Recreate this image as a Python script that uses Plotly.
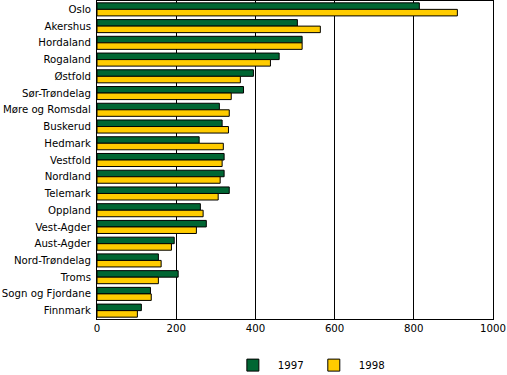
import plotly.graph_objects as go

categories = ["Oslo", "Akershus", "Hordaland", "Rogaland", "Østfold", "Sør-Trøndelag",
              "Møre og Romsdal", "Buskerud", "Hedmark", "Vestfold", "Nordland", "Telemark",
              "Oppland", "Vest-Agder", "Aust-Agder", "Nord-Trøndelag", "Troms",
              "Sogn og Fjordane", "Finnmark"]
values_1997 = [814, 506, 518, 460, 395, 370, 309, 316, 258, 321, 321, 334,
               261, 276, 195, 155, 205, 135, 112]
values_1998 = [910, 564, 518, 438, 362, 339, 334, 332, 319, 316, 311, 306,
               268, 251, 188, 162, 155, 137, 102]
x_ticks = [0, 200, 400, 600, 800, 1000]

font = dict(family="DejaVu Sans", size=10.2, color="#000000")

fig = go.Figure()
fig.add_trace(go.Bar(y=categories, x=values_1997, orientation="h", name="1997",
                     marker=dict(color="#006633", line=dict(color="#000000", width=1))))
fig.add_trace(go.Bar(y=categories, x=values_1998, orientation="h", name="1998",
                     marker=dict(color="#FFCC00", line=dict(color="#000000", width=1))))

fig.update_layout(
    width=507, height=375,
    margin=dict(l=97, r=14, t=1, b=56, autoexpand=False),
    paper_bgcolor="white", plot_bgcolor="white",
    barmode="group", bargap=0.22, bargroupgap=0.0,
    font=font,
    legend=dict(orientation="h", x=0.535, xanchor="center", y=-0.145, yanchor="middle",
                font=font, itemwidth=40, traceorder="normal"),
    xaxis=dict(range=[0, 1000], tickvals=x_ticks, showgrid=True, gridcolor="#000000",
               gridwidth=1, showline=True, linecolor="#000000", linewidth=1, mirror=True,
               ticks="", zeroline=False, tickfont=font, automargin=False),
    yaxis=dict(autorange="reversed", showline=True, linecolor="#000000", linewidth=1,
               mirror=True, ticks="", showgrid=False, tickfont=font, automargin=False,
               ticklabelstandoff=3),
)

fig.write_html("out.html", config={"displayModeBar": False},
               post_script="document.body.style.margin='0';document.body.style.overflow='hidden';")
